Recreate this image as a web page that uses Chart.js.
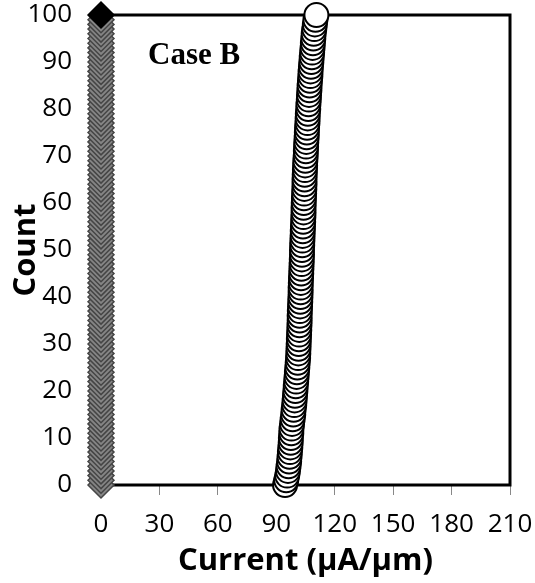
<!DOCTYPE html>
<html>
<head>
<meta charset="utf-8">
<script src="https://cdn.jsdelivr.net/npm/chart.js@4/dist/chart.umd.min.js"></script>
<style>
  html, body { margin: 0; padding: 0; background: #fff; }
  #wrap { width: 535px; height: 583px; }
</style>
</head>
<body>
<div id="wrap"><canvas id="graphique"></canvas></div>
<script>
// axes
const xTicks = [0, 30, 60, 90, 120, 150, 180, 210];
const yTicks = [0, 10, 20, 30, 40, 50, 60, 70, 80, 90, 100];
const xTitre = 'Current (µA/µm)';
const yTitre = 'Count';

// count (cumulative) 0..100
const counts = [
  0, 1, 2, 3, 4, 5, 6, 7, 8, 9, 10, 11, 12, 13, 14, 15, 16, 17, 18, 19, 20,
  21, 22, 23, 24, 25, 26, 27, 28, 29, 30, 31, 32, 33, 34, 35, 36, 37, 38, 39, 40,
  41, 42, 43, 44, 45, 46, 47, 48, 49, 50, 51, 52, 53, 54, 55, 56, 57, 58, 59, 60,
  61, 62, 63, 64, 65, 66, 67, 68, 69, 70, 71, 72, 73, 74, 75, 76, 77, 78, 79, 80,
  81, 82, 83, 84, 85, 86, 87, 88, 89, 90, 91, 92, 93, 94, 95, 96, 97, 98, 99, 100
];

// serie diamants (courant nul)
const courantZero = [
  0, 0, 0, 0, 0, 0, 0, 0, 0, 0, 0, 0, 0, 0, 0, 0, 0, 0, 0, 0, 0,
  0, 0, 0, 0, 0, 0, 0, 0, 0, 0, 0, 0, 0, 0, 0, 0, 0, 0, 0, 0,
  0, 0, 0, 0, 0, 0, 0, 0, 0, 0, 0, 0, 0, 0, 0, 0, 0, 0, 0, 0,
  0, 0, 0, 0, 0, 0, 0, 0, 0, 0, 0, 0, 0, 0, 0, 0, 0, 0, 0, 0,
  0, 0, 0, 0, 0, 0, 0, 0, 0, 0, 0, 0, 0, 0, 0, 0, 0, 0, 0, 0
];

// serie cercles (uA/um)
const courantB = [
  94.5, 95.1, 95.6, 96.0, 96.3, 96.6, 96.8, 97.0, 97.2, 97.4, 97.5,
  97.7, 97.8, 98.1, 98.4, 98.7, 98.9, 99.2, 99.4, 99.6, 99.8,
  100.0, 100.2, 100.4, 100.6, 100.8, 101.0, 101.2, 101.3, 101.4, 101.5,
  101.6, 101.7, 101.8, 101.9, 102.0, 102.0, 102.1, 102.2, 102.3, 102.4,
  102.5, 102.5, 102.6, 102.7, 102.8, 102.9, 103.0, 103.1, 103.2, 103.2,
  103.3, 103.4, 103.5, 103.6, 103.7, 103.8, 103.9, 104.0, 104.0, 104.1,
  104.2, 104.3, 104.4, 104.5, 104.5, 104.6, 104.7, 104.8, 104.9, 105.1,
  105.2, 105.3, 105.4, 105.6, 105.7, 105.8, 106.0, 106.1, 106.2, 106.4,
  106.5, 106.7, 106.8, 107.0, 107.1, 107.3, 107.5, 107.6, 107.8, 108.0,
  108.2, 108.4, 108.6, 108.8, 109.0, 109.2, 109.5, 109.8, 110.1, 110.6
];

const ptsZero = counts.map((c, i) => ({ x: courantZero[i], y: c }));
const ptsB = counts.map((c, i) => ({ x: courantB[i], y: c }));

const police = '"Open Sans", sans-serif';

// cadre noir, titres des axes et texte "Case B"
const cadre = {
  id: 'cadre',
  beforeDatasetsDraw(chart) {
    const { ctx, chartArea: a } = chart;
    ctx.save();
    ctx.strokeStyle = '#000';
    ctx.lineWidth = 3;
    ctx.strokeRect(a.left, a.top, a.right - a.left, a.bottom - a.top);

    ctx.fillStyle = '#000';
    ctx.font = 'bold 31px "Liberation Serif", "Times New Roman", serif';
    ctx.textAlign = 'left';
    ctx.textBaseline = 'alphabetic';
    ctx.fillText('Case B', a.left + 47, a.top + 49);

    ctx.font = 'bold 31px ' + police;
    ctx.textAlign = 'center';
    ctx.textBaseline = 'middle';
    ctx.fillText(xTitre, (a.left + a.right) / 2, 561);

    ctx.translate(26, (a.top + a.bottom) / 2);
    ctx.rotate(-Math.PI / 2);
    ctx.fillText(yTitre, 0, 0);
    ctx.restore();
  }
};

// pas de marge auto autour des axes
const sansMarge = (s) => {
  s.paddingTop = 0; s.paddingBottom = 0; s.paddingLeft = 0; s.paddingRight = 0;
};

const tickFont = { family: police, size: 26, lineHeight: 1.2 };

new Chart(document.getElementById('graphique'), {
  type: 'scatter',
  data: {
    datasets: [
      {
        data: ptsZero,
        pointStyle: 'rectRot',
        pointRadius: 13,
        pointBorderWidth: 1.5,
        pointBackgroundColor: counts.map((c, i) => i === counts.length - 1 ? '#000' : '#858585'),
        pointBorderColor: counts.map((c, i) => i === counts.length - 1 ? '#000' : '#454545'),
        showLine: false,
        clip: false
      },
      {
        data: ptsB,
        pointStyle: 'circle',
        pointRadius: 12,
        pointBorderWidth: 2,
        pointBackgroundColor: '#fff',
        pointBorderColor: '#000',
        showLine: false,
        clip: false
      }
    ]
  },
  options: {
    responsive: true,
    maintainAspectRatio: false,
    animation: false,
    layout: { autoPadding: false, padding: { top: 15, right: 25, left: 0, bottom: 0 } },
    plugins: {
      legend: { display: false },
      tooltip: { enabled: false }
    },
    scales: {
      x: {
        type: 'linear',
        min: 0,
        max: 210,
        afterBuildTicks: (s) => { s.ticks = xTicks.map(v => ({ value: v })); },
        afterFit: (s) => { s.height = 98; sansMarge(s); },
        ticks: { color: '#000', font: tickFont, padding: 14, maxRotation: 0 },
        grid: { drawOnChartArea: false, tickLength: 10, color: '#888', tickWidth: 1 },
        border: { display: false }
      },
      y: {
        type: 'linear',
        min: 0,
        max: 100,
        afterBuildTicks: (s) => { s.ticks = yTicks.map(v => ({ value: v })); },
        afterFit: (s) => { s.width = 101; sansMarge(s); },
        ticks: { color: '#000', font: tickFont, padding: 29 },
        grid: { drawOnChartArea: false, drawTicks: false },
        border: { display: false }
      }
    }
  },
  plugins: [cadre]
});
</script>
</body>
</html>
